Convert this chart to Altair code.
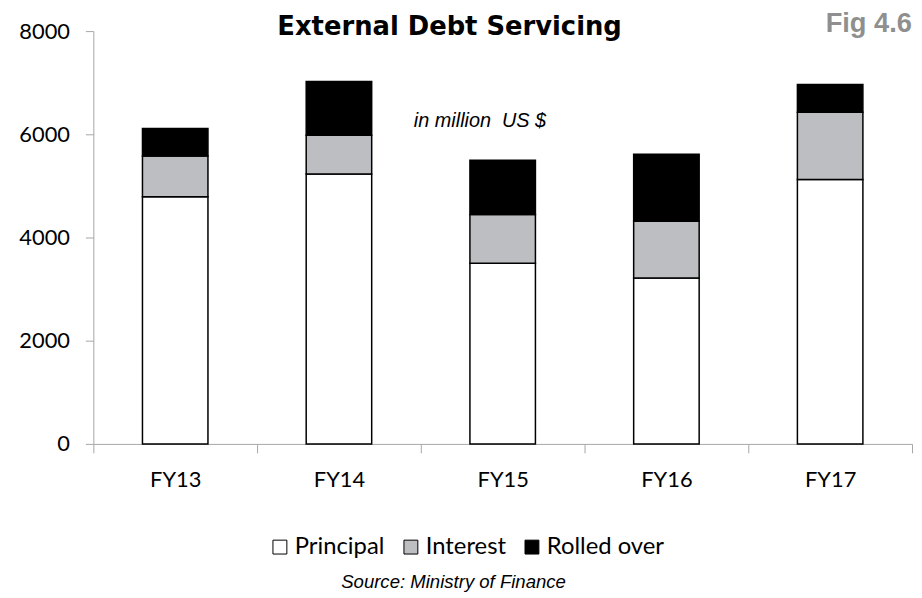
import altair as alt
import pandas as pd

years = ["FY13", "FY14", "FY15", "FY16", "FY17"]
principal = [4790, 5230, 3500, 3215, 5125]
interest = [790, 750, 946, 1100, 1300]
rolled_over = [533, 1045, 1052, 1300, 540]
series = ["Principal", "Interest", "Rolled over"]
colors = ["#ffffff", "#bdbec1", "#000000"]

rows = []
for i, y in enumerate(years):
    for k, (name, vals) in enumerate(zip(series, [principal, interest, rolled_over])):
        rows.append({"year": y, "series": name, "value": vals[i], "idx": k})
df = pd.DataFrame(rows)

bars = alt.Chart(df).mark_bar(size=66, stroke="black", strokeWidth=1.5).encode(
    x=alt.X("year:N", sort=years, title=None,
            scale=alt.Scale(paddingInner=0, paddingOuter=0),
            axis=alt.Axis(labelAngle=0, tickBand="extent", grid=False,
                          domainColor="#a6a6a6", tickColor="#a6a6a6",
                          tickSize=9, labelPadding=17, labelFont="Lato",
                          labelFontSize=22, labelColor="black")),
    y=alt.Y("value:Q", stack="zero", title=None,
            scale=alt.Scale(domain=[0, 8000], nice=False),
            axis=alt.Axis(values=[0, 2000, 4000, 6000, 8000], format="d", grid=False,
                          domainColor="#a6a6a6", tickColor="#a6a6a6",
                          tickSize=8, labelPadding=16, labelFont="Lato",
                          labelFontSize=22, labelColor="black")),
    color=alt.Color("series:N", sort=series,
                    scale=alt.Scale(domain=series, range=colors),
                    legend=alt.Legend(title=None, orient="none", direction="horizontal",
                                      legendX=176, legendY=508,
                                      symbolType="square", symbolSize=196,
                                      symbolStrokeColor="black", symbolStrokeWidth=1,
                                      labelFont="Lato", labelFontSize=24,
                                      labelColor="black", labelOffset=3,
                                      columnPadding=14, symbolOpacity=1)),
    order=alt.Order("idx:Q", sort="ascending"),
)

annot = pd.DataFrame({"t": ["in million\u00a0 US $"]})
unit_txt = alt.Chart(annot).mark_text(font="Liberation Sans", fontStyle="italic",
                                      fontSize=20, align="left", baseline="alphabetic").encode(
    x=alt.value(323), y=alt.value(97), text="t:N")

title_df = pd.DataFrame({"t": ["External Debt Servicing"]})
title_txt = alt.Chart(title_df).mark_text(font="DejaVu Sans", fontWeight="bold", fontSize=26,
                                          align="center", baseline="alphabetic").encode(
    x=alt.value(359), y=alt.value(4), text="t:N")

fig_df = pd.DataFrame({"t": ["Fig 4.6"]})
fig_txt = alt.Chart(fig_df).mark_text(font="Liberation Sans", fontWeight="bold", fontSize=27.5,
                                      color="#8f8f8f", align="right", baseline="alphabetic").encode(
    x=alt.value(825), y=alt.value(1), text="t:N")

src_df = pd.DataFrame({"t": ["Source: Ministry of Finance"]})
src_txt = alt.Chart(src_df).mark_text(font="Liberation Sans", fontStyle="italic", fontSize=18.7,
                                      align="center", baseline="alphabetic").encode(
    x=alt.value(363), y=alt.value(561), text="t:N")

chart = alt.layer(bars, unit_txt, title_txt, fig_txt, src_txt).properties(
    width=825, height=416,
    autosize=alt.AutoSizeParams(type="none"),
    padding={"left": 86, "top": 21, "right": 2, "bottom": 149},
).configure_view(stroke=None)

chart.save("out.html", embed_options={"renderer": "svg", "actions": False})
